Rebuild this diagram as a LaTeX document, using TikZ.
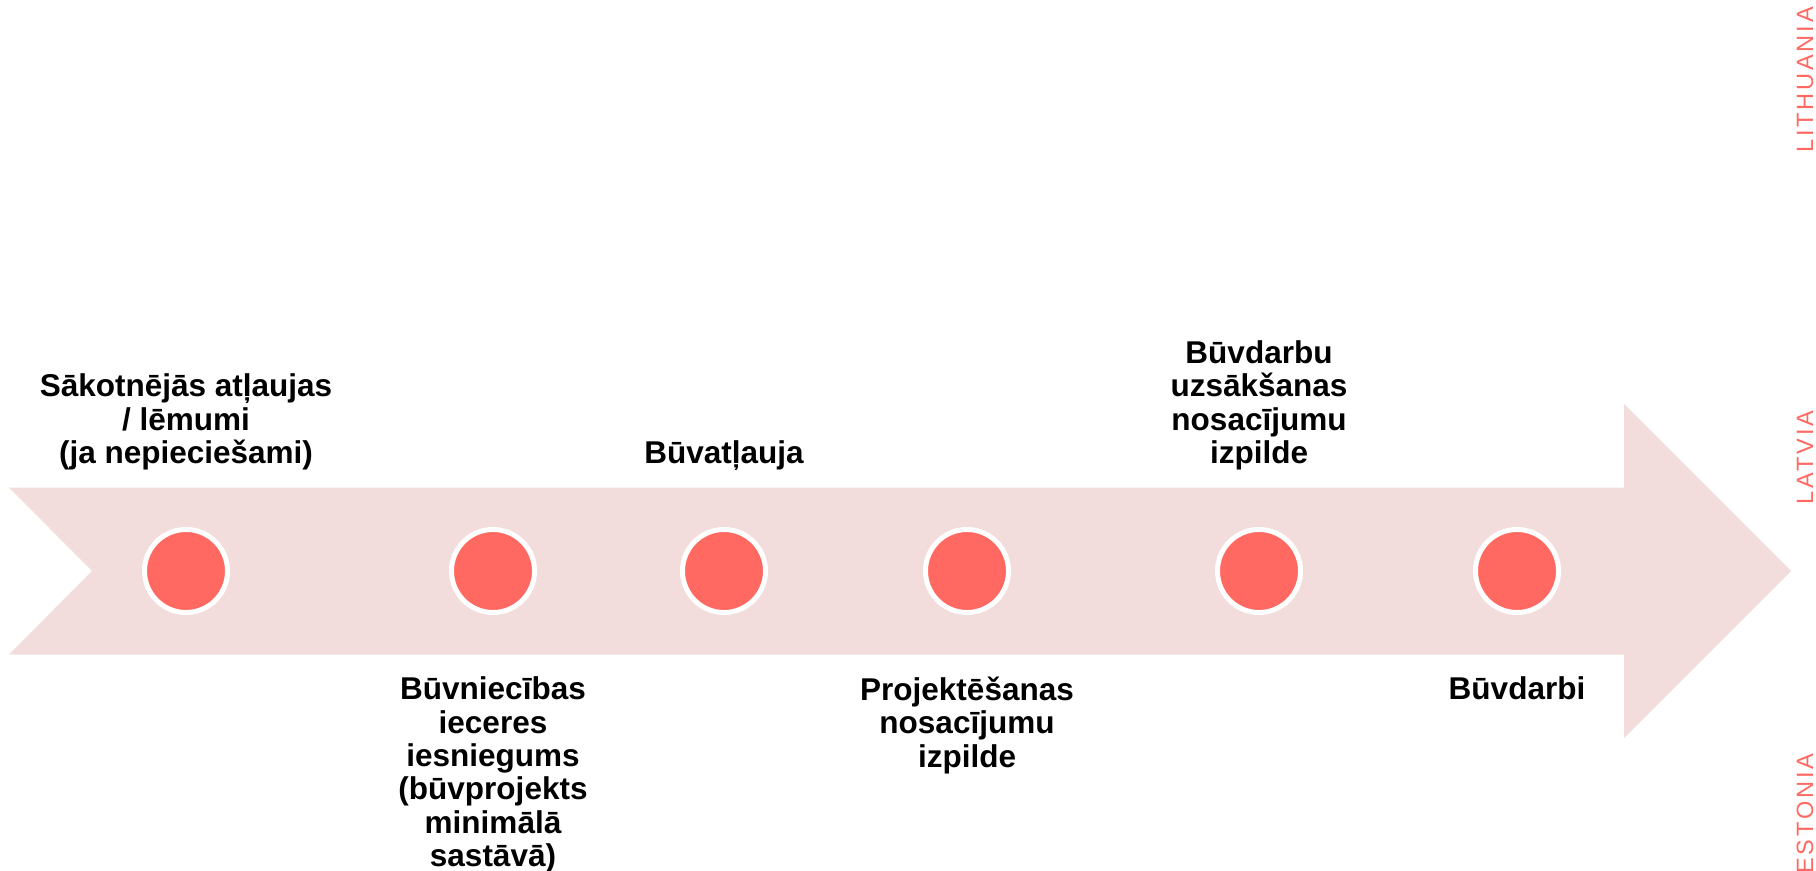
\documentclass[tikz,border=0pt]{standalone}
\usepackage{fontspec}
\setmainfont{Liberation Sans}
\newfontfamily\paisfont[LetterSpace=12]{Liberation Sans}
\usetikzlibrary{positioning}

\definecolor{rosa}{HTML}{F2DCDC}
\definecolor{coral}{HTML}{FF6961}

\begin{document}
\begin{tikzpicture}[x=0.01cm, y=-0.01cm,
    punto/.style={circle, fill=coral, draw=white, line width=0.05cm, minimum size=0.83cm, inner sep=0},
    etiqueta/.style={align=center, font=\bfseries\fontsize{8.96}{9.5}\selectfont, inner sep=0},
    pais/.style={rotate=90, anchor=base, text=coral, font=\paisfont\fontsize{6.7}{8}\selectfont, inner sep=0}]
    \useasboundingbox (0,0) rectangle (1816,870);

    % Flecha
    \fill[rosa] (9,487.5) -- (1624,487.5) -- (1624,404) -- (1791,571) -- (1624,738)
        -- (1624,654.5) -- (9,654.5) -- (92,571) -- cycle;

    % Puntos
    \node[punto] (p1) at (186,571) {};
    \node[punto] (p2) at (493,571) {};
    \node[punto] (p3) at (724,571) {};
    \node[punto] (p4) at (967,571) {};
    \node[punto] (p5) at (1259,571) {};
    \node[punto] (p6) at (1517,571) {};

    % Etiquetas
    \node[etiqueta, above=0.56cm of p1] (t1) {Sākotnējās atļaujas\\/ lēmumi\\(ja nepieciešami)};
    \node[etiqueta, below=0.61cm of p2] (t2) {Būvniecības\\ieceres\\iesniegums\\(būvprojekts\\minimālā\\sastāvā)};
    \node[etiqueta, above=0.56cm of p3] (t3) {Būvatļauja};
    \node[etiqueta, below=0.61cm of p4] (t4) {Projektēšanas\\nosacījumu\\izpilde};
    \node[etiqueta, above=0.56cm of p5] (t5) {Būvdarbu\\uzsākšanas\\nosacījumu\\izpilde};
    \node[etiqueta, below=0.61cm of p6] (t6) {Būvdarbi};

    % Paises
    \node[pais] (lt) at (1813,80) {LITHUANIA};
    \node[pais] (lv) at (1813,457.5) {LATVIA};
    \node[pais, anchor=base east] (ee) at (1813,753) {ESTONIA};
\end{tikzpicture}
\end{document}
